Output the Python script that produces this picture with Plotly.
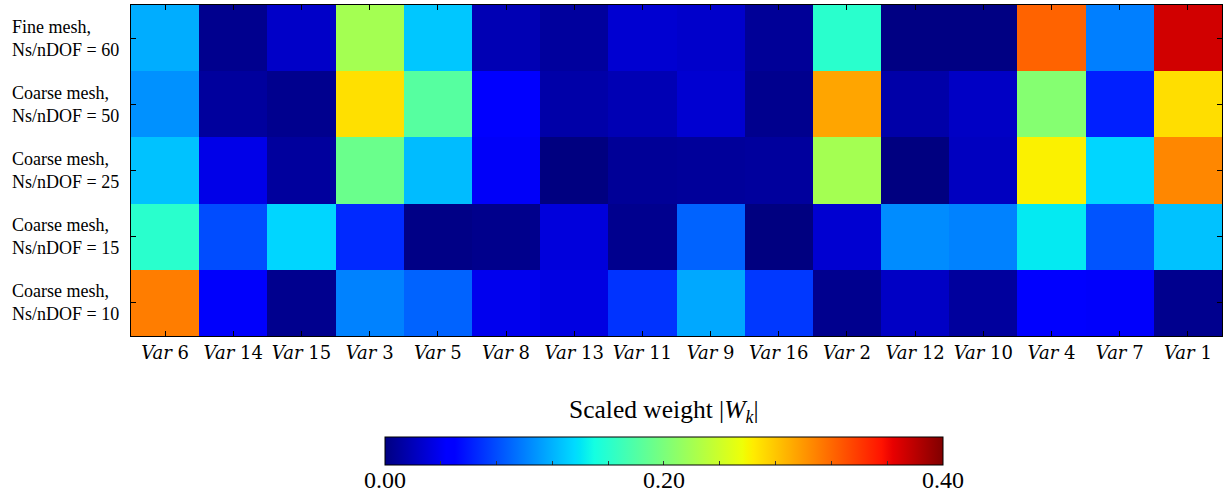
import plotly.graph_objects as go

# Input variables (columns) and mesh cases (rows, top to bottom)
variables = ["Var 6", "Var 14", "Var 15", "Var 3", "Var 5", "Var 8", "Var 13", "Var 11",
             "Var 9", "Var 16", "Var 2", "Var 12", "Var 10", "Var 4", "Var 7", "Var 1"]
cases = ["Fine mesh,<br>Ns/nDOF = 60",
         "Coarse mesh,<br>Ns/nDOF = 50",
         "Coarse mesh,<br>Ns/nDOF = 25",
         "Coarse mesh,<br>Ns/nDOF = 15",
         "Coarse mesh,<br>Ns/nDOF = 10"]

# Scaled weights |W_k| per case
w_fine_60 = [0.118, 0.005, 0.025, 0.220, 0.128, 0.018, 0.010, 0.028,
             0.026, 0.008, 0.160, 0.001, 0.001, 0.322, 0.100, 0.372]
w_coarse_50 = [0.107, 0.010, 0.005, 0.269, 0.182, 0.047, 0.014, 0.018,
               0.028, 0.005, 0.294, 0.014, 0.024, 0.205, 0.062, 0.270]
w_coarse_25 = [0.126, 0.036, 0.010, 0.192, 0.124, 0.042, 0.000, 0.008,
               0.009, 0.010, 0.220, 0.000, 0.022, 0.262, 0.134, 0.307]
w_coarse_15 = [0.160, 0.080, 0.134, 0.066, 0.002, 0.004, 0.032, 0.005,
               0.089, 0.000, 0.028, 0.105, 0.101, 0.142, 0.083, 0.126]
w_coarse_10 = [0.311, 0.043, 0.005, 0.101, 0.089, 0.038, 0.034, 0.070,
               0.116, 0.072, 0.005, 0.024, 0.010, 0.047, 0.043, 0.005]

weights = [w_fine_60, w_coarse_50, w_coarse_25, w_coarse_15, w_coarse_10]

# Colour range and labelled colour-bar values
z_min, z_max = 0.0, 0.4
cb_labels = [0.0, 0.2, 0.4]
cb_minor = [round(0.04 * i, 2) for i in range(11)]

# Classic jet colormap
jet = [
    [0.00, "rgb(0,0,128)"],
    [0.11, "rgb(0,0,255)"],
    [0.125, "rgb(0,0,255)"],
    [0.34, "rgb(0,219,255)"],
    [0.35, "rgb(0,229,246)"],
    [0.375, "rgb(20,255,226)"],
    [0.64, "rgb(238,255,8)"],
    [0.65, "rgb(247,246,0)"],
    [0.66, "rgb(255,236,0)"],
    [0.89, "rgb(255,19,0)"],
    [0.91, "rgb(232,0,0)"],
    [1.00, "rgb(128,0,0)"],
]

x_text = ["<i>" + v.split(" ")[0] + "</i> " + v.split(" ")[1] for v in variables]

serif = "Liberation Serif"

# Horizontal colour bar geometry (paper fraction of the plot width)
cb_center = 0.4885
cb_len = 0.511
cb_left = cb_center - cb_len / 2

fig = go.Figure(go.Heatmap(
    z=weights,
    x=variables,
    y=cases,
    colorscale=jet,
    zmin=z_min,
    zmax=z_max,
    xgap=0,
    ygap=0,
    colorbar=dict(
        orientation="h",
        x=cb_center,
        xanchor="center",
        y=-0.305,
        yanchor="top",
        len=cb_len,
        lenmode="fraction",
        thickness=28,
        thicknessmode="pixels",
        xpad=0,
        ypad=0,
        outlinecolor="black",
        outlinewidth=1,
        tickvals=cb_minor,
        showticklabels=False,
        ticks="inside",
        ticklen=4,
        tickcolor="#333333",
    ),
))

fig.update_layout(
    width=1223,
    height=495,
    margin=dict(l=131, r=1, t=5, b=159, autoexpand=False),
    paper_bgcolor="white",
    plot_bgcolor="white",
    xaxis=dict(
        tickmode="array",
        tickvals=variables,
        ticktext=x_text,
        ticks="inside",
        ticklen=5,
        tickcolor="black",
        showline=True,
        linecolor="black",
        linewidth=1,
        mirror="ticks",
        ticklabelstandoff=0,
        tickfont=dict(family="DejaVu Serif", size=18, color="black"),
        showgrid=False,
        zeroline=False,
    ),
    yaxis=dict(
        autorange="reversed",
        ticks="inside",
        ticklen=5,
        tickcolor="black",
        showline=True,
        linecolor="black",
        linewidth=1,
        mirror="ticks",
        showticklabels=False,
        showgrid=False,
        zeroline=False,
    ),
)

# Row labels, left aligned
for c in cases:
    fig.add_annotation(
        x=-0.1109, xref="paper", xanchor="left",
        y=c, yref="y", yanchor="middle",
        text=c, showarrow=False, align="left",
        font=dict(family=serif, size=18, color="black"),
    )

# Colour bar value labels, placed along the bar by value
for v in cb_labels:
    fig.add_annotation(
        x=cb_left + (v - z_min) / (z_max - z_min) * cb_len, xref="paper", xanchor="center",
        y=-0.435, yref="paper", yanchor="middle",
        text=f"{v:.2f}", showarrow=False,
        font=dict(family=serif, size=24, color="black"),
    )

# Colour bar title
fig.add_annotation(
    x=cb_center, xref="paper", xanchor="center",
    y=-0.2266, yref="paper", yanchor="middle",
    text="Scaled weight |<i>W</i><sub><i>k</i></sub>|",
    showarrow=False,
    font=dict(family=serif, size=25.5, color="black"),
)

fig.write_html("out.html")
